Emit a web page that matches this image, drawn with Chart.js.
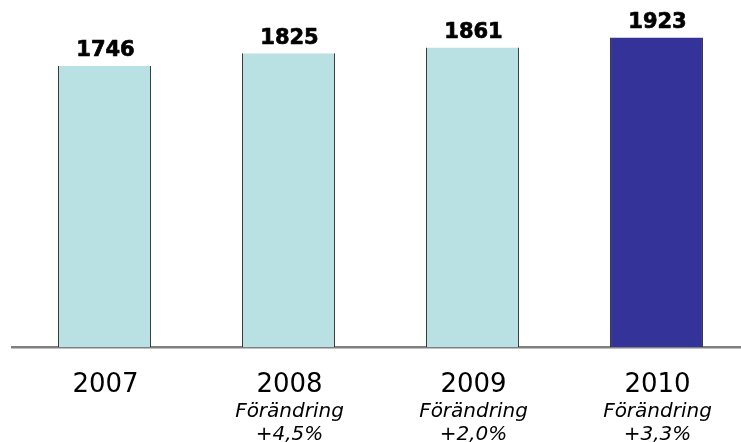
<!DOCTYPE html>
<html>
<head>
<meta charset="utf-8">
<script src="https://cdn.jsdelivr.net/npm/chart.js@4.4.1/dist/chart.umd.min.js"></script>
<style>
  html, body { margin: 0; padding: 0; background: #ffffff; overflow: hidden; }
  #wrap { position: relative; width: 761px; height: 442px; }
</style>
</head>
<body>
<div id="wrap"><canvas id="c" width="761" height="442"></canvas></div>
<script>
const categories = ['2007', '2008', '2009', '2010'];
const values = [1746, 1825, 1861, 1923];
const changeLabels = ['', 'Förändring', 'Förändring', 'Förändring'];
const changeValues = ['', '+4,5%', '+2,0%', '+3,3%'];
const barColors = ['#b9e0e3', '#b9e0e3', '#b9e0e3', '#343399'];

const valueLabels = {
  id: 'valueLabels',
  afterDatasetsDraw(chart) {
    const ctx = chart.ctx;
    const meta = chart.getDatasetMeta(0);
    ctx.save();
    ctx.fillStyle = '#000000';
    ctx.strokeStyle = '#000000';
    ctx.lineWidth = 0.7;
    ctx.lineJoin = 'round';
    ctx.font = 'bold 21px "DejaVu Sans"';
    ctx.textAlign = 'center';
    ctx.textBaseline = 'alphabetic';
    meta.data.forEach((bar, i) => {
      ctx.fillText(String(values[i]), bar.x + 1, bar.y - 9.5);
      ctx.strokeText(String(values[i]), bar.x + 1, bar.y - 9.5);
    });
    ctx.restore();
  }
};

const xLabels = {
  id: 'xLabels',
  afterDraw(chart) {
    const ctx = chart.ctx;
    const xs = chart.scales.x;
    const base = chart.chartArea.bottom;
    ctx.save();
    ctx.fillStyle = '#000000';
    ctx.textAlign = 'center';
    ctx.textBaseline = 'alphabetic';
    categories.forEach((cat, i) => {
      const x = xs.getPixelForValue(i) + 1;
      ctx.font = '26px "DejaVu Sans"';
      ctx.fillText(cat, x, base + 45);
      ctx.font = 'italic 20px "DejaVu Sans"';
      if (changeLabels[i]) ctx.fillText(changeLabels[i], x, base + 70);
      if (changeValues[i]) ctx.fillText(changeValues[i], x, base + 93);
    });
    ctx.restore();
  }
};

new Chart(document.getElementById('c'), {
  type: 'bar',
  data: {
    labels: categories,
    datasets: [{
      data: values,
      backgroundColor: barColors,
      borderColor: '#2a2a2a',
      borderWidth: { left: 1, right: 1, top: 0, bottom: 0 },
      borderSkipped: false,
      barPercentage: 0.505,
      categoryPercentage: 1
    }]
  },
  options: {
    responsive: false,
    animation: false,
    devicePixelRatio: 1,
    layout: { padding: { top: 25, bottom: 95, left: 12.5, right: 12.5 } },
    plugins: { legend: { display: false }, tooltip: { enabled: false } },
    scales: {
      x: {
        display: true,
        grid: { display: true, drawOnChartArea: false, drawTicks: false, color: 'rgba(0,0,0,0)' },
        border: { display: true, color: '#808080', width: 2.5 },
        ticks: { display: false }
      },
      y: {
        display: false,
        min: 0,
        max: 2000
      }
    }
  },
  plugins: [valueLabels, xLabels]
});
</script>
</body>
</html>
